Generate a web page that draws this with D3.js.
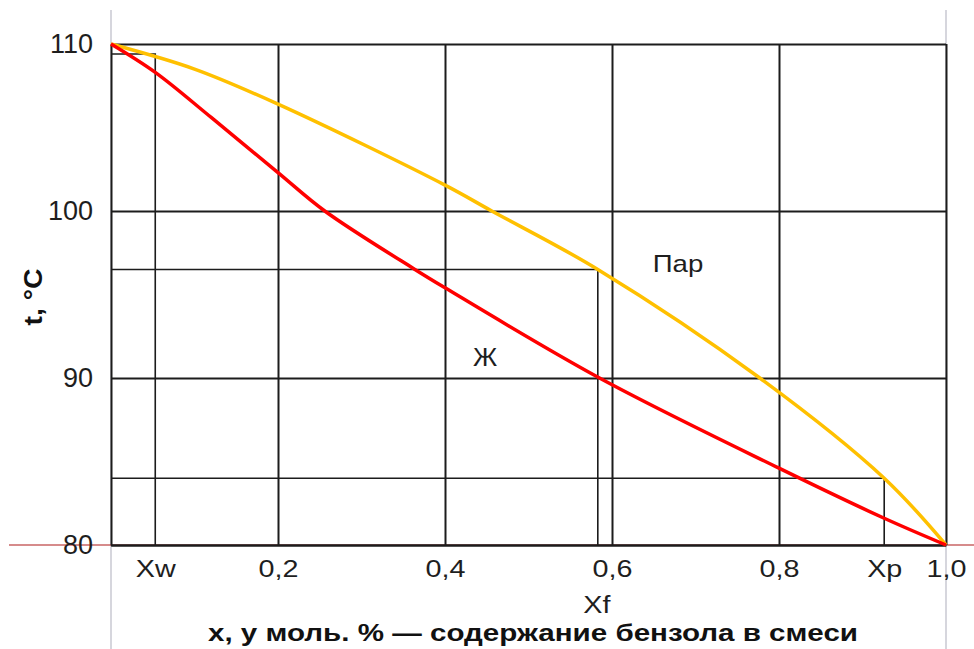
<!DOCTYPE html>
<html>
<head>
<meta charset="utf-8">
<script src="https://cdn.jsdelivr.net/npm/d3@7"></script>
<style>
  html, body { margin: 0; padding: 0; background: #fff; }
  svg { display: block; font-family: "Liberation Sans", Arial, sans-serif; }
</style>
</head>
<body>
<svg id="chart" width="974" height="649"></svg>
<script>
// Boiling (liquid) line: mole fraction of benzene vs temperature, °C
const liquidX = [0, 0.053, 0.12, 0.2, 0.256, 0.364, 0.4, 0.585, 0.8, 0.926, 1.0];
const liquidT = [110, 108.3, 105.6, 102.3, 100, 96.5, 95.4, 90, 84.6, 81.6, 80];

// Condensation (vapour) line
const vaporX = [0, 0.1, 0.2, 0.4, 0.456, 0.583, 0.777, 0.926, 1.0];
const vaporT = [110, 108.5, 106.4, 101.55, 100, 96.5, 90, 84.0, 80];

// Grid and tick labels
const gridX = [0.2, 0.4, 0.6, 0.8, 1.0];
const gridT = [80, 90, 100, 110];
const yTickLabels = ["80", "90", "100", "110"];
const xTickValues = [0.053, 0.2, 0.4, 0.6, 0.8, 0.926, 1.0];
const xTickLabels = ["Xw", "0,2", "0,4", "0,6", "0,8", "Xp", "1,0"];

// Characteristic compositions: residue, feed, distillate
const markerNames = ["Xw", "Xf", "Xp"];
const markerX = [0.053, 0.583, 0.926];
const markerT = [109.4, 96.5, 84.0];

const svg = d3.select("#chart");
const xs = d3.scaleLinear().domain([0, 1]).range([111, 946]);
const ys = d3.scaleLinear().domain([80, 110]).range([545, 44]);
const plotW = xs(1) - xs(0), plotH = ys(80) - ys(110);
const FONT = "'Liberation Sans', Arial, sans-serif";

// horizontally widened label placed at (x, y)
function label(x, y, txt, size, k, weight) {
  return svg.append("text")
    .attr("transform", `translate(${x},${y}) scale(${k},1)`)
    .attr("text-anchor", "middle").attr("font-size", size)
    .attr("font-weight", weight || "normal").attr("fill", "#1e1e1e")
    .text(txt);
}

// thin frame lines running past the plot area
svg.append("line").attr("x1", xs(0)).attr("x2", xs(0)).attr("y1", 10).attr("y2", 649)
  .attr("stroke", "#c9c9d2").attr("stroke-width", 1.5);
svg.append("line").attr("x1", xs(1)).attr("x2", xs(1)).attr("y1", 10).attr("y2", 649)
  .attr("stroke", "#c9c9d2").attr("stroke-width", 1.5);
svg.append("line").attr("x1", 9).attr("x2", 974).attr("y1", ys(80)).attr("y2", ys(80))
  .attr("stroke", "#c86464").attr("stroke-width", 1.5);

// horizontal grid + y labels
const yAxis = svg.append("g").attr("transform", `translate(${xs(0)},0)`)
  .call(d3.axisLeft(ys).tickValues(gridT).tickSize(-plotW).tickSizeOuter(0).tickPadding(18)
    .tickFormat((d, i) => yTickLabels[i]));
yAxis.selectAll(".tick line").attr("stroke", "#1c1c1c").attr("stroke-width", 2);
yAxis.select(".domain").attr("stroke", "#1c1c1c").attr("stroke-width", 2);
yAxis.selectAll("text").attr("font-size", 27).attr("fill", "#1e1e1e").attr("font-family", FONT);

// vertical grid
const xGrid = svg.append("g").attr("transform", `translate(0,${ys(80)})`)
  .call(d3.axisBottom(xs).tickValues(gridX).tickSize(-plotH).tickSizeOuter(0).tickFormat(""));
xGrid.selectAll(".tick line").attr("stroke", "#1c1c1c").attr("stroke-width", 2);
xGrid.select(".domain").attr("stroke", "#1c1c1c").attr("stroke-width", 2);

// x tick labels
const xLab = svg.append("g").attr("transform", `translate(0,${ys(80)})`)
  .call(d3.axisBottom(xs).tickValues(xTickValues).tickSize(0).tickPadding(16)
    .tickFormat((d, i) => xTickLabels[i]));
xLab.select(".domain").remove();
xLab.selectAll("text").attr("font-size", 23).attr("fill", "#1e1e1e").attr("font-family", FONT)
  .attr("transform", "scale(1.25,1)");

// composition markers
svg.append("g").selectAll("path").data(markerX).join("path")
  .attr("d", (d, i) => `M${xs(0)},${ys(markerT[i])}H${xs(d)}V${ys(80)}`)
  .attr("fill", "none").attr("stroke", "#1c1c1c").attr("stroke-width", 1.6);

label(xs(markerX[1]) - 1, 613, markerNames[1], 23, 1.25);

// equilibrium curves
const line = d3.line().curve(d3.curveCatmullRom.alpha(0.5));
svg.append("path").attr("d", line(vaporX.map((d, i) => [xs(d), ys(vaporT[i])])))
  .attr("fill", "none").attr("stroke", "#ffc000").attr("stroke-width", 3.5);
svg.append("path").attr("d", line(liquidX.map((d, i) => [xs(d), ys(liquidT[i])])))
  .attr("fill", "none").attr("stroke", "#ff0000").attr("stroke-width", 3.5);

// phase labels
label(678, 272, "Пар", 24, 1.15);
label(485, 366, "Ж", 25, 1.05);

// axis titles
svg.append("text").attr("x", 533).attr("y", 641).attr("text-anchor", "middle")
  .attr("font-size", 24).attr("font-weight", "bold").attr("fill", "#111")
  .text("x, y моль. % — содержание бензола в смеси")
  .attr("textLength", 650).attr("lengthAdjust", "spacingAndGlyphs");
svg.append("text").attr("transform", "translate(42,297) rotate(-90)").attr("text-anchor", "middle")
  .attr("font-size", 25).attr("font-weight", "bold").attr("fill", "#111")
  .text("t, °C").attr("textLength", 57).attr("lengthAdjust", "spacingAndGlyphs");
</script>
</body>
</html>
